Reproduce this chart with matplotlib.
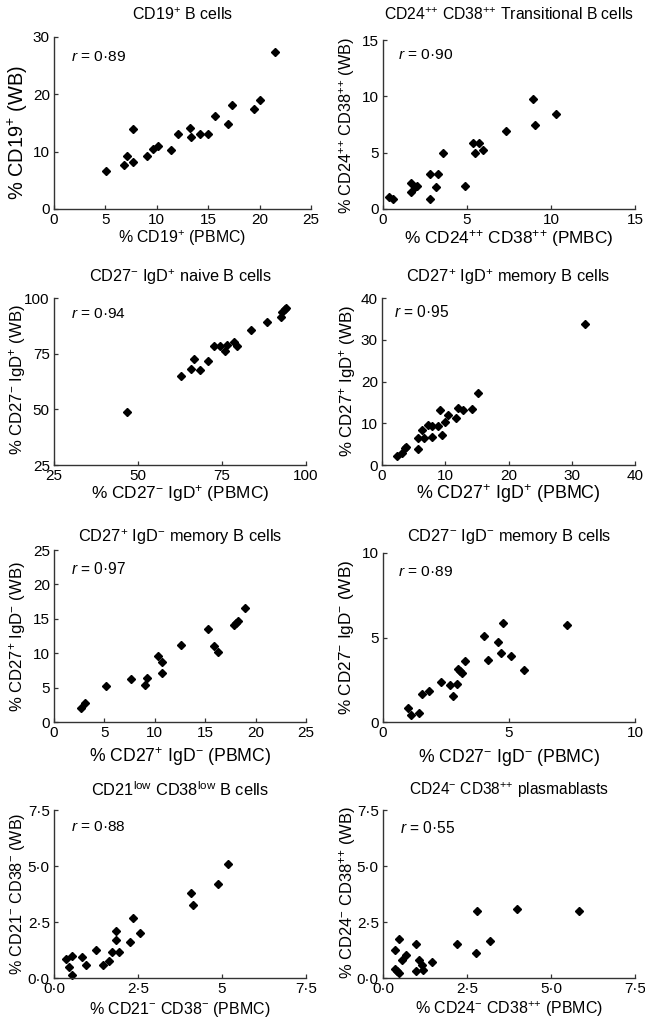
import matplotlib
matplotlib.use("Agg")
import matplotlib.pyplot as plt

plt.rcParams['font.family'] = ['Liberation Sans', 'DejaVu Sans']
plt.rcParams['mathtext.fontset'] = 'custom'
plt.rcParams['mathtext.rm'] = 'Liberation Sans'
plt.rcParams['mathtext.it'] = 'Liberation Sans:italic'
plt.rcParams['mathtext.bf'] = 'Liberation Sans:bold'
plt.rcParams['mathtext.sf'] = 'Liberation Sans'
plt.rcParams['font.size'] = 10

# ---- Data ----
cd19_x = [5.04, 6.83, 7.09, 7.67, 7.67, 9.07, 9.59, 10.08, 11.41, 12.09, 13.23, 13.3, 14.17, 14.95, 15.64, 16.97, 17.3, 19.47, 20.0, 21.46]
cd19_y = [6.6, 7.6, 9.3, 8.2, 13.9, 9.3, 10.5, 11.06, 10.25, 13.1, 14.1, 12.6, 13.1, 13.1, 16.2, 14.9, 18.2, 17.4, 19.05, 27.4]

trans_x = [0.34, 0.62, 1.65, 1.69, 1.89, 2.03, 2.78, 2.78, 3.16, 3.3, 3.56, 4.87, 5.36, 5.7, 5.5, 5.98, 7.35, 8.94, 9.06, 10.27]
trans_y = [1.09, 0.89, 2.3, 1.54, 1.92, 2.07, 3.1, 0.92, 1.98, 3.1, 4.93, 2.07, 5.9, 5.9, 4.93, 5.23, 6.88, 9.77, 7.47, 8.44]

naive_x = [46.75, 62.65, 65.8, 66.8, 68.4, 70.9, 72.5, 74.4, 75.8, 76.4, 78.6, 79.5, 83.5, 88.5, 92.7, 92.9, 93.7, 94.1]
naive_y = [48.76, 64.9, 67.9, 72.7, 67.7, 71.5, 78.6, 78.6, 76.2, 78.8, 80.1, 78.4, 85.5, 89.4, 91.5, 93.6, 94.9, 95.5]

mem_pp_x = [2.32, 3.17, 3.59, 3.85, 5.7, 5.7, 6.33, 6.65, 7.33, 7.92, 7.92, 8.92, 9.23, 9.55, 9.92, 10.45, 11.66, 12.03, 12.77, 14.19, 15.15, 32.03]
mem_pp_y = [2.07, 2.95, 3.98, 4.22, 3.9, 6.45, 8.29, 6.45, 9.56, 6.77, 9.32, 9.4, 13.15, 7.17, 10.2, 11.95, 11.16, 13.63, 13.23, 13.3, 17.2, 33.86]

mem_pm_x = [2.65, 3.11, 5.2, 7.65, 9.04, 9.27, 10.36, 10.76, 10.76, 12.58, 15.26, 15.83, 16.23, 17.88, 18.08, 18.25, 18.97]
mem_pm_y = [2.09, 2.82, 5.19, 6.21, 5.44, 6.41, 9.61, 8.79, 7.09, 11.26, 13.45, 11.07, 10.19, 14.17, 14.42, 14.66, 16.6]

mem_mm_x = [0.98, 1.11, 1.43, 1.55, 1.83, 2.29, 2.66, 2.79, 2.93, 2.98, 3.06, 3.13, 3.27, 3.99, 4.17, 4.56, 4.69, 4.78, 5.07, 5.59, 7.32]
mem_mm_y = [0.85, 0.42, 0.55, 1.66, 1.84, 2.36, 2.18, 1.56, 2.22, 3.13, 2.99, 2.91, 3.6, 5.09, 3.64, 4.73, 4.06, 5.86, 3.88, 3.05, 5.76]

cd21_x = [0.35, 0.45, 0.55, 0.55, 0.84, 0.96, 1.25, 1.46, 1.65, 1.74, 1.84, 1.84, 1.94, 2.25, 2.36, 2.57, 4.07, 4.13, 4.89, 5.18]
cd21_y = [0.86, 0.48, 0.97, 0.12, 0.92, 0.6, 1.27, 0.57, 0.78, 1.16, 2.09, 1.71, 1.18, 1.6, 2.68, 2.01, 3.8, 3.27, 4.19, 5.07]

plasma_x = [0.37, 0.49, 0.36, 0.43, 0.49, 0.58, 0.69, 0.97, 0.97, 1.08, 1.15, 1.2, 1.47, 2.2, 2.76, 2.8, 3.18, 3.98, 5.83]
plasma_y = [1.23, 1.72, 0.4, 0.3, 0.21, 0.8, 1.02, 1.5, 0.3, 0.79, 0.58, 0.34, 0.7, 1.5, 1.1, 3.0, 1.65, 3.07, 3.01]

r_values = ['0·89', '0·90', '0·94', '0·95', '0·97', '0·89', '0·88', '0·55']

P = r'$^{{+}}$'
PP = r'$^{{+}{+}}$'
M = r'$^{{-}}$'

titles = [
    f'CD19{P} B cells',
    f'CD24{PP} CD38{PP} Transitional B cells',
    f'CD27{M} IgD{P} naive B cells',
    f'CD27{P} IgD{P} memory B cells',
    f'CD27{P} IgD{M} memory B cells',
    f'CD27{M} IgD{M} memory B cells',
    r'CD21$^{\mathrm{low}}$ CD38$^{\mathrm{low}}$ B cells',
    f'CD24{M} CD38{PP} plasmablasts',
]
xlabels = [
    f'% CD19{P} (PBMC)',
    f'% CD24{PP} CD38{PP} (PMBC)',
    f'% CD27{M} IgD{P} (PBMC)',
    f'% CD27{P} IgD{P} (PBMC)',
    f'% CD27{P} IgD{M} (PBMC)',
    f'% CD27{M} IgD{M} (PBMC)',
    f'% CD21{M} CD38{M} (PBMC)',
    f'% CD24{M} CD38{PP} (PBMC)',
]
ylabels = [
    f'% CD19{P} (WB)',
    f'% CD24{PP} CD38{PP} (WB)',
    f'% CD27{M} IgD{P} (WB)',
    f'% CD27{P} IgD{P} (WB)',
    f'% CD27{P} IgD{M} (WB)',
    f'% CD27{M} IgD{M} (WB)',
    f'% CD21{M} CD38{M} (WB)',
    f'% CD24{M} CD38{PP} (WB)',
]
xticks = [[0, 5, 10, 15, 20, 25], [0, 5, 10, 15], [25, 50, 75, 100], [0, 10, 20, 30, 40],
          [0, 5, 10, 15, 20, 25], [0, 5, 10], [0, 2.5, 5, 7.5], [0, 2.5, 5, 7.5]]
yticks = [[0, 10, 20, 30], [0, 5, 10, 15], [25, 50, 75, 100], [0, 10, 20, 30, 40],
          [0, 5, 10, 15, 20, 25], [0, 5, 10], [0, 2.5, 5, 7.5], [0, 2.5, 5, 7.5]]
xticklabels = [None, None, None, None, None, None,
               ['0·0', '2·5', '5', '7·5'], ['0·0', '2·5', '5·0', '7·5']]
yticklabels = [None, None, None, None, None, None,
               ['0·0', '2·5', '5·0', '7·5'], ['0·0', '2·5', '5·0', '7·5']]

datasets = [(cd19_x, cd19_y), (trans_x, trans_y), (naive_x, naive_y), (mem_pp_x, mem_pp_y),
            (mem_pm_x, mem_pm_y), (mem_mm_x, mem_mm_y), (cd21_x, cd21_y), (plasma_x, plasma_y)]

# ---- Layout (pixels) ----
W, H = 645, 1021
boxes = [(54, 311, 37, 209), (383, 635, 40, 209),
         (54, 306, 298, 465), (382, 635, 298, 465),
         (54, 306, 550, 722), (383, 635, 553, 722),
         (54, 306, 810, 978), (383, 635, 810, 978)]
# title: (center y, target width)
title_lay = [(15, 101), (15, 250), (277, 183), (277, 205), (537, 204), (537, 205), (790, 178), (790, 200)]
# xlabel: (center y, target width)
xlab_lay = [(238, 129), (239, 210), (494, 178), (494, 185), (757, 183), (758, 183), (1009, 181), (1009, 188)]
# ylabel: (center x, center y, target length)
ylab_lay = [(18, 132, 135), (347, 126, 176), (18, 380, 150), (347, 381, 152),
            (18, 637, 150), (347, 637, 155), (18, 894, 163), (347, 893, 173)]
# r text: (left x, center y)
r_lay = [(71, 57), (398, 55), (71, 314), (394, 312), (71, 569), (398, 572), (71, 827), (400, 828)]

fig = plt.figure(figsize=(W / 100, H / 100), dpi=100)
renderer = fig.canvas.get_renderer()
spine_col = '#333333'


def fx(px):
    return px / W


def fy(py):
    return 1 - py / H


def fit(t, target, vertical=False):
    for _ in range(3):
        bb = t.get_window_extent(renderer)
        cur = bb.height if vertical else bb.width
        if cur > 0:
            t.set_fontsize(t.get_fontsize() * target / cur)


for i in range(8):
    l, r, t, b = boxes[i]
    ax = fig.add_axes([fx(l), fy(b), (r - l) / W, (b - t) / H])
    xs, ys = datasets[i]
    ax.plot(xs, ys, linestyle='none', marker='D', ms=3.7, color='black', clip_on=False)
    ax.set_xlim(xticks[i][0], xticks[i][-1])
    ax.set_ylim(yticks[i][0], yticks[i][-1])
    ax.set_xticks(xticks[i])
    ax.set_yticks(yticks[i])
    if xticklabels[i] is not None:
        ax.set_xticklabels(xticklabels[i])
    if yticklabels[i] is not None:
        ax.set_yticklabels(yticklabels[i])
    for s in ['top', 'right']:
        ax.spines[s].set_visible(False)
    for s in ['left', 'bottom']:
        ax.spines[s].set_color(spine_col)
        ax.spines[s].set_linewidth(1.0)
    ax.tick_params(direction='in', length=3, width=0.9, color=spine_col,
                   labelsize=11, pad=3)

    cx = (l + r) / 2
    ty, tw = title_lay[i]
    tt = fig.text(fx(cx), fy(ty), titles[i], ha='center', va='center', fontsize=10)
    fit(tt, tw)

    xy, xw = xlab_lay[i]
    xt = fig.text(fx(cx), fy(xy), xlabels[i], ha='center', va='center', fontsize=10)
    fit(xt, xw)

    yx, yy, yl = ylab_lay[i]
    yt = fig.text(fx(yx), fy(yy), ylabels[i], ha='center', va='center',
                  rotation=90, fontsize=10)
    fit(yt, yl, vertical=True)

    rx, ry = r_lay[i]
    rt = fig.text(fx(rx), fy(ry), r'$r$ = ' + r_values[i], ha='left', va='center', fontsize=10)
    fit(rt, 55)

fig.savefig('out.png', dpi=100)
